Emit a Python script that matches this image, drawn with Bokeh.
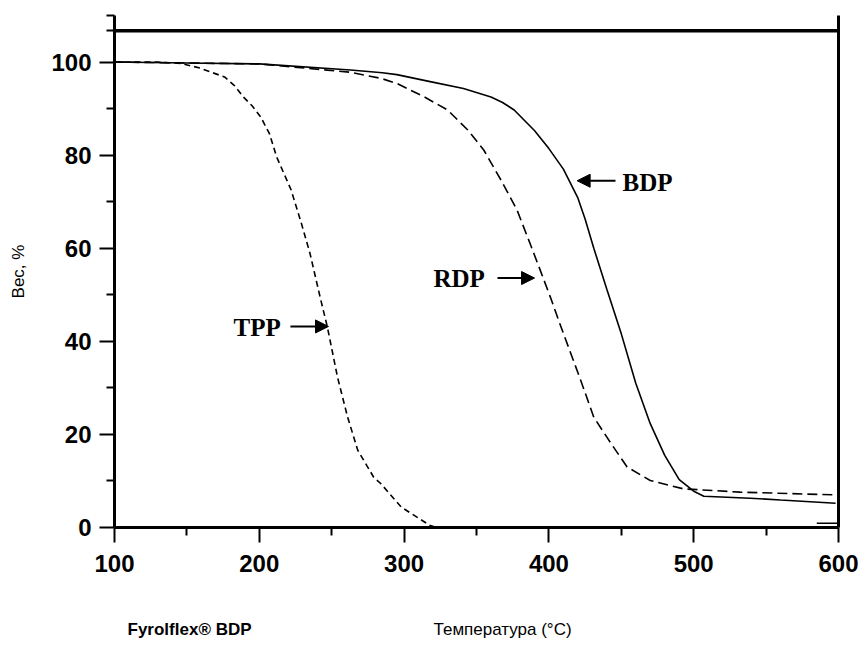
from bokeh.plotting import figure
from bokeh.models import (Range1d, FixedTicker, LinearAxis, Label, Arrow, NormalHead)
from bokeh.layouts import column
from bokeh.core.properties import value
from bokeh.embed import file_html
from bokeh.resources import INLINE

# ---- data ----
temp_bdp = [100, 150, 200, 263, 285, 295, 318, 341, 360, 368, 376, 390, 400, 410, 420,
            425, 431, 440, 450, 460, 470, 480, 490, 500, 507, 539, 560, 598]
wt_bdp = [100, 99.8, 99.6, 98.3, 97.7, 97.3, 95.8, 94.3, 92.5, 91.3, 89.7, 85.3, 81.4,
          77.0, 70.8, 66.3, 60.0, 51.2, 41.6, 31.0, 22.3, 15.5, 10.3, 7.8, 6.7, 6.3,
          5.9, 5.2]

temp_rdp = [100, 150, 200, 263, 284, 295, 314, 330, 344, 355, 367, 378, 387, 394, 401,
            408, 415, 422, 431, 443, 454, 470, 493, 532, 598]
wt_rdp = [100, 99.8, 99.6, 97.8, 96.5, 95.4, 92.5, 89.7, 85.4, 81.1, 74.6, 68.2, 61.0,
          55.3, 49.5, 43.4, 37.5, 31.6, 23.7, 18.0, 13.0, 10.1, 8.3, 7.6, 7.0]

temp_tpp = [100, 130, 146, 159, 166, 176, 183, 189, 195, 201, 207, 212, 222, 229, 235,
            242, 247, 254, 261, 268, 279, 284, 298, 318, 323]
wt_tpp = [100, 100, 99.7, 98.7, 97.9, 96.8, 94.9, 92.5, 90.6, 88.2, 84.6, 79.6, 72.5,
          65.4, 58.9, 49.5, 43.1, 32.3, 23.7, 16.6, 10.8, 9.4, 4.4, 0.4, 0.0]

temp_tail = [585, 599]
wt_tail = [0.9, 0.9]

x_major = [100, 200, 300, 400, 500, 600]
x_minor = [150, 250, 350, 450, 550]
y_major = [0, 20, 40, 60, 80, 100]
y_minor = [10, 30, 50, 70, 90, 110]

series_labels = ["TPP", "RDP", "BDP"]
label_x = [182.2, 320.3, 450.8]
label_y = [42.9, 53.5, 74.2]
arrow_x0 = [221.5, 364.5, 446.0]
arrow_x1 = [247.8, 390.1, 419.5]
arrow_y = [43.2, 53.6, 74.5]

top_line_y = 106.7

x_title = "Температура (°C)"
y_title = "Вес, %"
product = "Fyrolflex® BDP"
footer_texts = [product, x_title]
footer_x = [109.0, 320.3]
footer_styles = ["bold", "normal"]

sans = "Liberation Sans"
serif = "Liberation Serif"

# ---- main figure ----
W = 861
p = figure(width=W, height=600, output_backend="svg", toolbar_location=None,
           x_range=Range1d(100, 600), y_range=Range1d(0, 110),
           min_border_left=114, min_border_right=23, min_border_top=15,
           min_border_bottom=73)
p.outline_line_color = None
p.xgrid.visible = False
p.ygrid.visible = False

for ax in p.xaxis:
    ax.ticker = FixedTicker(ticks=x_major, minor_ticks=x_minor)
for ax in p.yaxis:
    # the short stub of the top rule left of the axis is drawn as a minor tick
    ax.ticker = FixedTicker(ticks=y_major, minor_ticks=y_minor + [top_line_y])

for ax in list(p.xaxis) + list(p.yaxis):
    ax.axis_line_width = 3
    ax.axis_line_color = "black"
    ax.major_tick_line_width = 2
    ax.minor_tick_line_width = 2
    ax.major_tick_in = 0
    ax.minor_tick_in = 0
    ax.major_tick_out = 15
    ax.minor_tick_out = 8
    ax.major_label_text_font = sans
    ax.major_label_text_font_style = "bold"
    ax.major_label_text_font_size = "24px"
    ax.major_label_text_color = "black"
p.xaxis.major_label_standoff = 12
p.yaxis.major_label_standoff = 8

p.yaxis.axis_label = y_title
p.yaxis.axis_label_text_font = sans
p.yaxis.axis_label_text_font_style = "normal"
p.yaxis.axis_label_text_font_size = "17px"
p.yaxis.axis_label_text_color = "black"
p.yaxis.axis_label_standoff = 20

right = LinearAxis(ticker=FixedTicker(ticks=[]), axis_line_width=3,
                   axis_line_color="black", major_tick_line_color=None,
                   minor_tick_line_color=None, major_label_text_alpha=0)
p.add_layout(right, "right")

# curves
p.line(temp_bdp, wt_bdp, line_color="black", line_width=1.6)
p.line(temp_rdp, wt_rdp, line_color="black", line_width=1.6, line_dash="10 5")
p.line(temp_tpp, wt_tpp, line_color="black", line_width=1.6, line_dash="6 4")
p.line(temp_tail, wt_tail, line_color="black", line_width=1.4)

# top horizontal line
p.add_layout(Arrow(start=None, end=None, x_start=100, x_end=600,
                   y_start=top_line_y, y_end=top_line_y,
                   line_width=3.5, line_color="black"))

# series labels and arrows
for name, lx, ly, a0, a1, ay in zip(series_labels, label_x, label_y, arrow_x0, arrow_x1, arrow_y):
    p.add_layout(Label(x=lx, y=ly, text=name, text_font=serif, text_font_style="bold",
                       text_font_size="25px", text_align="left", text_baseline="middle",
                       text_color="black"))
    p.add_layout(Arrow(end=NormalHead(size=13, fill_color="black", line_color="black"),
                       x_start=a0, x_end=a1, y_start=ay, y_end=ay,
                       line_width=2, line_color="black"))

# ---- footer strip (same horizontal scale) ----
f = figure(width=W, height=46, output_backend="svg", toolbar_location=None,
           x_range=Range1d(100, 600), y_range=Range1d(0, 1),
           min_border_left=114, min_border_right=23, min_border_top=0,
           min_border_bottom=0, x_axis_location=None, y_axis_location=None)
f.outline_line_color = None
f.xgrid.visible = False
f.ygrid.visible = False
for txt, tx, st in zip(footer_texts, footer_x, footer_styles):
    f.text(x=[tx], y=[0.36], text=[txt], text_font=value(sans),
           text_font_style=st, text_font_size="17px", text_align="left",
           text_baseline="middle", text_color="black")

layout = column(p, f, spacing=0)
open("out.html", "w").write(file_html(layout, INLINE))
